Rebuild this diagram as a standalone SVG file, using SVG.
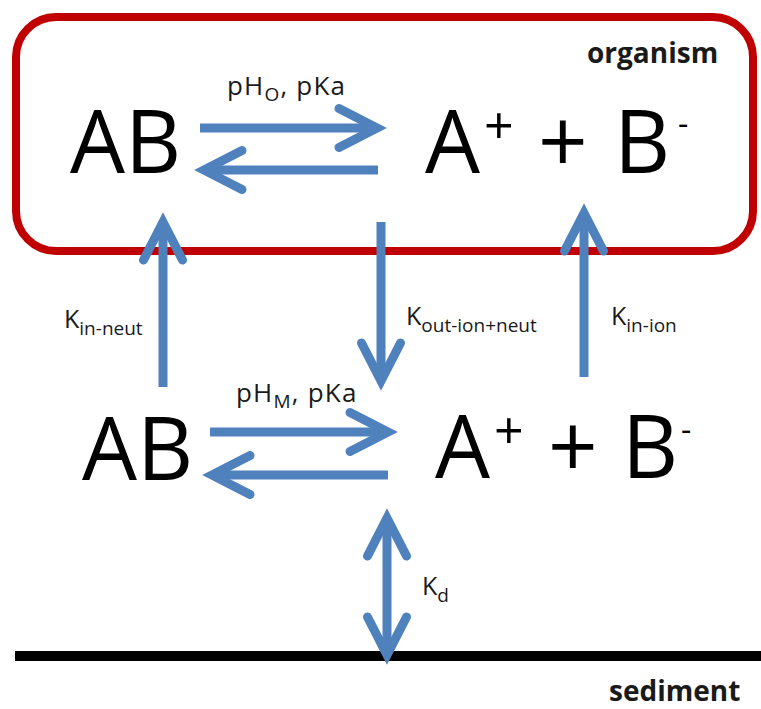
<svg xmlns="http://www.w3.org/2000/svg" width="761" height="709" viewBox="0 0 761 709">
<style>
.big{font-family:"Open Sans","Liberation Sans",sans-serif;font-size:87px;fill:#000}
.sup{font-family:"Open Sans","Liberation Sans",sans-serif;font-size:52px;fill:#000}
.lbl{font-family:"Open Sans","Liberation Sans",sans-serif;font-size:25px;fill:#1a1a1a}
.ph{font-size:26px;letter-spacing:1.2px}
.sub{font-size:19px}
.bold{font-family:"Open Sans","Liberation Sans",sans-serif;font-size:28px;font-weight:bold;fill:#1a1a1a}
.arr{fill:none;stroke:#4f81bd;stroke-width:9;marker-end:url(#head)}
</style>
<defs>
<marker id="head" markerUnits="userSpaceOnUse" viewBox="-50 -30 60 60" markerWidth="60" markerHeight="60" refX="0" refY="0" orient="auto-start-reverse" overflow="visible">
<path d="M-38,-19.5 L0,0 L-38,19.5" fill="none" stroke="#4f81bd" stroke-width="9" stroke-linecap="round" stroke-linejoin="miter"/>
</marker>
</defs>
<rect id="organism" x="16" y="17" width="737" height="234" rx="40" ry="40" fill="none" stroke="#c00000" stroke-width="8"/>
<text class="bold" x="587" y="63">organism</text>
<g id="sediment">
<line x1="15" y1="656" x2="761" y2="656" stroke="#000" stroke-width="10"/>
<text class="bold" x="609" y="701">sediment</text>
</g>
<g id="AB-org"><text class="big" x="70" y="173">AB</text></g>
<g id="ions-org">
<text class="big" x="425" y="173">A</text>
<text class="sup" x="484" y="144">+</text>
<text class="big" x="538" y="173">+</text>
<text class="big" x="614" y="173">B</text>
<text class="sup" x="678" y="135" style="font-size:32px">-</text>
</g>
<g id="AB-med"><text class="big" x="82" y="480">AB</text></g>
<g id="ions-med">
<text class="big" x="435" y="478">A</text>
<text class="sup" x="494" y="449">+</text>
<text class="big" x="548" y="478">+</text>
<text class="big" x="622" y="478">B</text>
<text class="sup" x="681" y="441" style="font-size:32px">-</text>
</g>
<g id="connectors">
<path class="arr" d="M200,128 L377,128"/>
<path class="arr" d="M378,170 L204,170"/>
<path class="arr" d="M210,432 L388,432"/>
<path class="arr" d="M388,475 L212,475"/>
<path class="arr" d="M163,387 L163,222"/>
<path class="arr" d="M381,222 L381,381"/>
<path class="arr" d="M584,377 L584,213"/>
<path class="arr" d="M387,655 L387,518" style="marker-start:url(#head)"/>
</g>
<g id="labels">
<text class="lbl ph" x="227" y="95">pH<tspan class="sub" dy="6">O</tspan><tspan dy="-6">, pKa</tspan></text>
<text class="lbl ph" x="236" y="402">pH<tspan class="sub" dy="6">M</tspan><tspan dy="-6">, pKa</tspan></text>
<text class="lbl" x="64" y="328">K<tspan class="sub" dy="7">in-neut</tspan></text>
<text class="lbl" x="406" y="325">K<tspan class="sub" dy="7">out-ion+neut</tspan></text>
<text class="lbl" x="611" y="325">K<tspan class="sub" dy="7">in-ion</tspan></text>
<text class="lbl" x="422" y="595">K<tspan class="sub" dy="7">d</tspan></text>
</g>
</svg>
